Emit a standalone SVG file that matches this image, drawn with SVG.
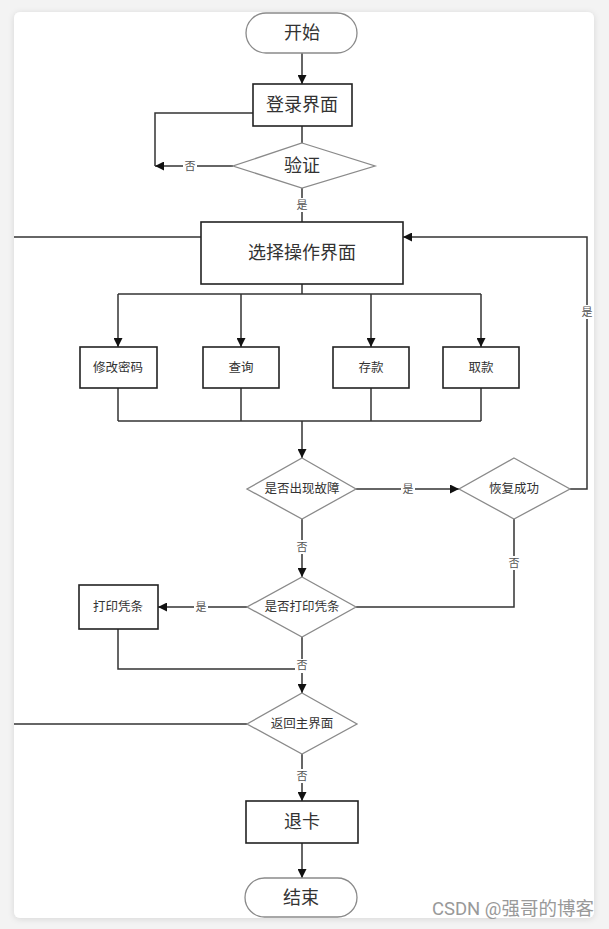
<svg xmlns="http://www.w3.org/2000/svg" width="609" height="929" viewBox="0 0 609 929">
<defs>
<filter id="sh" x="-5%" y="-5%" width="110%" height="110%"><feDropShadow dx="0" dy="1" stdDeviation="3" flood-color="#000" flood-opacity="0.12"/></filter>
<marker id="ar" viewBox="0 0 10 10" refX="10" refY="5" markerWidth="9" markerHeight="9" markerUnits="userSpaceOnUse" orient="auto"><path d="M0,0 L10,5 L0,10 z" fill="#111"/></marker>
<style>
.box{fill:#fff;stroke:#222;stroke-width:1.6}
.dia{fill:#fff;stroke:#8a8a8a;stroke-width:1.3}
.term{fill:#fff;stroke:#8a8a8a;stroke-width:1.3}
.ln{fill:none;stroke:#333;stroke-width:1.5}
.t{font-family:"Liberation Serif","Noto Sans CJK SC",serif;fill:#333;text-anchor:middle;dominant-baseline:central}
.big{font-size:18px}
.sm{font-size:12.5px}
.lb{font-size:11px;fill:#555}
.lbg{fill:#fff}
</style>
</defs>
<rect width="609" height="929" fill="#f3f3f3"/>
<rect x="14" y="12" width="580" height="906" rx="6" fill="#fff" filter="url(#sh)"/>

<g id="connectors">
<line class="ln" x1="302" y1="53" x2="302" y2="84" marker-end="url(#ar)"/>
<line class="ln" x1="302" y1="126" x2="302" y2="143"/>
<line class="ln" x1="233" y1="166" x2="155" y2="166" marker-end="url(#ar)"/>
<polyline class="ln" points="253,113 155,113 155,166"/>
<line class="ln" x1="302" y1="188" x2="302" y2="222"/>
<line class="ln" x1="201" y1="237" x2="14" y2="237"/>
<polyline class="ln" points="570,489 587,489 587,237 403,237" marker-end="url(#ar)"/>
<line class="ln" x1="302" y1="284" x2="302" y2="294"/>
<line class="ln" x1="118" y1="294" x2="481" y2="294"/>
<line class="ln" x1="118" y1="294" x2="118" y2="347" marker-end="url(#ar)"/>
<line class="ln" x1="241" y1="294" x2="241" y2="347" marker-end="url(#ar)"/>
<line class="ln" x1="371" y1="294" x2="371" y2="347" marker-end="url(#ar)"/>
<line class="ln" x1="481" y1="294" x2="481" y2="347" marker-end="url(#ar)"/>
<line class="ln" x1="118" y1="388" x2="118" y2="421"/>
<line class="ln" x1="241" y1="388" x2="241" y2="421"/>
<line class="ln" x1="371" y1="388" x2="371" y2="421"/>
<line class="ln" x1="481" y1="388" x2="481" y2="421"/>
<line class="ln" x1="118" y1="421" x2="481" y2="421"/>
<line class="ln" x1="302" y1="421" x2="302" y2="458" marker-end="url(#ar)"/>
<line class="ln" x1="356" y1="489" x2="459" y2="489" marker-end="url(#ar)"/>
<line class="ln" x1="302" y1="519" x2="302" y2="577" marker-end="url(#ar)"/>
<polyline class="ln" points="514,519 514,607 356,607"/>
<line class="ln" x1="247" y1="607" x2="158" y2="607" marker-end="url(#ar)"/>
<polyline class="ln" points="118,629 118,669 302,669"/>
<line class="ln" x1="302" y1="637" x2="302" y2="693" marker-end="url(#ar)"/>
<line class="ln" x1="247" y1="724" x2="14" y2="724"/>
<line class="ln" x1="302" y1="754" x2="302" y2="801" marker-end="url(#ar)"/>
<line class="ln" x1="302" y1="843" x2="302" y2="878" marker-end="url(#ar)"/>
<rect class="lbg" x="183" y="159" width="14" height="14"/><text class="t lb" x="190" y="166">否</text>
<rect class="lbg" x="295" y="198" width="14" height="14"/><text class="t lb" x="302" y="205">是</text>
<rect class="lbg" x="580" y="305" width="14" height="14"/><text class="t lb" x="587" y="312">是</text>
<rect class="lbg" x="401" y="482" width="14" height="14"/><text class="t lb" x="408" y="489">是</text>
<rect class="lbg" x="295" y="540" width="14" height="14"/><text class="t lb" x="302" y="547">否</text>
<rect class="lbg" x="507" y="556" width="14" height="14"/><text class="t lb" x="514" y="563">否</text>
<rect class="lbg" x="194" y="600" width="14" height="14"/><text class="t lb" x="201" y="607">是</text>
<rect class="lbg" x="295" y="659" width="14" height="14"/><text class="t lb" x="302" y="665">否</text>
<rect class="lbg" x="295" y="769" width="14" height="14"/><text class="t lb" x="302" y="776">否</text>
</g>

<g id="start"><rect class="term" x="246" y="13" width="111" height="40" rx="20"/><text class="t big" x="302" y="33">开始</text></g>
<g id="login"><rect class="box" x="253" y="84" width="99" height="42"/><text class="t big" x="302" y="105">登录界面</text></g>
<g id="verify"><polygon class="dia" points="302,143 375,166 302,188 233,166"/><text class="t big" x="302" y="166">验证</text></g>
<g id="menu"><rect class="box" x="201" y="222" width="202" height="62"/><text class="t big" x="302" y="253">选择操作界面</text></g>
<g id="changepwd"><rect class="box" x="80" y="347" width="77" height="41"/><text class="t sm" x="118" y="368">修改密码</text></g>
<g id="query"><rect class="box" x="203" y="347" width="76" height="41"/><text class="t sm" x="241" y="368">查询</text></g>
<g id="deposit"><rect class="box" x="333" y="347" width="76" height="41"/><text class="t sm" x="371" y="368">存款</text></g>
<g id="withdraw"><rect class="box" x="443" y="347" width="76" height="41"/><text class="t sm" x="481" y="368">取款</text></g>
<g id="fault"><polygon class="dia" points="302,458 356,489 302,519 247,489"/><text class="t sm" x="302" y="489">是否出现故障</text></g>
<g id="recover"><polygon class="dia" points="514,458 570,489 514,519 459,489"/><text class="t sm" x="514" y="489">恢复成功</text></g>
<g id="printq"><polygon class="dia" points="302,577 356,607 302,637 247,607"/><text class="t sm" x="302" y="607">是否打印凭条</text></g>
<g id="print"><rect class="box" x="79" y="585" width="79" height="44"/><text class="t sm" x="118" y="607">打印凭条</text></g>
<g id="return"><polygon class="dia" points="302,693 357,724 302,754 247,724"/><text class="t sm" x="302" y="724">返回主界面</text></g>
<g id="eject"><rect class="box" x="246" y="801" width="112" height="42"/><text class="t big" x="302" y="822">退卡</text></g>
<g id="end"><rect class="term" x="245" y="878" width="112" height="39" rx="19.5"/><text class="t big" x="301" y="898">结束</text></g>

<text x="594" y="915" font-family="Roboto,'Noto Sans CJK SC',sans-serif" font-size="18.5" fill="#999" text-anchor="end">CSDN @强哥的博客</text>
</svg>
